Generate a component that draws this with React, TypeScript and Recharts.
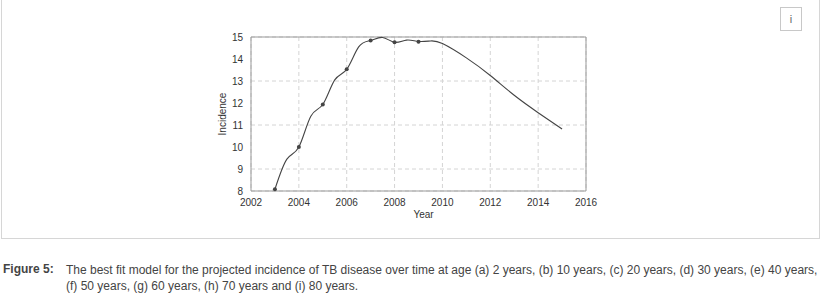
import {
  ComposedChart,
  Line,
  XAxis,
  YAxis,
  CartesianGrid,
  ReferenceArea,
} from "recharts";

// fitted curve
const curveYears = [2003, 2003.5, 2004, 2004.5, 2005, 2005.5, 2006, 2006.5, 2007, 2007.5, 2008, 2008.5, 2009, 2009.5, 2010, 2011, 2012, 2013, 2014, 2015];
const curveValues = [8.08, 9.45, 10.0, 11.4, 11.93, 13.05, 13.53, 14.55, 14.84, 14.98, 14.76, 14.86, 14.8, 14.82, 14.7, 14.05, 13.25, 12.35, 11.56, 10.82];

// observed points
const obsYears = [2003, 2004, 2005, 2006, 2007, 2008, 2009];
const obsValues = [8.08, 10.0, 11.93, 13.53, 14.84, 14.76, 14.78];

const xTicks = [2002, 2004, 2006, 2008, 2010, 2012, 2014, 2016];
const yTicks = [8, 9, 10, 11, 12, 13, 14, 15];

const captionLabel = "Figure 5:";
const captionText =
  "The best fit model for the projected incidence of TB disease over time at age (a) 2 years, (b) 10 years, (c) 20 years, (d) 30 years, (e) 40 years, (f) 50 years, (g) 60 years, (h) 70 years and (i) 80 years.";

const FONT = "'Liberation Sans', Arial, sans-serif";
const INK = "#444";

export default function App() {
  const curve = curveYears.map((year, i) => ({ year, value: curveValues[i] }));
  const obs = obsYears.map((year, i) => ({ year, value: obsValues[i] }));
  const tick = { fill: "#333", fontSize: 10, fontFamily: FONT };

  return (
    <div style={{ position: "absolute", left: 0, top: 0, width: 822, height: 295, background: "#fff", fontFamily: FONT }}>
      <div
        style={{
          position: "absolute",
          left: 1,
          top: -1,
          width: 817,
          height: 239,
          borderLeft: "1px solid #d6d6d6",
          borderRight: "1px solid #d6d6d6",
          borderBottom: "1px solid #d6d6d6",
        }}
      />
      <div
        style={{
          position: "absolute",
          left: 780,
          top: 7,
          width: 22,
          height: 24,
          border: "1px solid #c8c8c8",
          boxSizing: "border-box",
          color: "#666",
          fontSize: 11,
          textAlign: "center",
          lineHeight: "22px",
        }}
      >
        i
      </div>
      <div style={{ position: "absolute", left: 0, top: 0 }}>
        <ComposedChart width={822} height={240} margin={{ top: 37, right: 236, bottom: 29, left: 221 }}>
          <CartesianGrid stroke="#d4d4d4" strokeDasharray="4 3" />
          <XAxis
            type="number"
            dataKey="year"
            domain={[2002, 2016]}
            ticks={xTicks}
            height={20}
            axisLine={false}
            tickLine={false}
            tick={tick}
            tickMargin={2}
            label={({ viewBox }: any) => (
              <text
                x={viewBox.x + viewBox.width / 2 + 5}
                y={viewBox.y + 27}
                textAnchor="middle"
                fill="#333"
                fontSize={10}
                fontFamily={FONT}
              >
                Year
              </text>
            )}
          />
          <YAxis
            type="number"
            dataKey="value"
            domain={[8, 15]}
            ticks={yTicks}
            width={30}
            axisLine={false}
            tickLine={false}
            tick={tick}
            tickMargin={2}
            label={({ viewBox }: any) => {
              const x = viewBox.x + 5;
              const y = viewBox.y + viewBox.height / 2;
              return (
                <text
                  x={x}
                  y={y}
                  transform={`rotate(-90 ${x} ${y})`}
                  textAnchor="middle"
                  fill="#333"
                  fontSize={10}
                  fontFamily={FONT}
                >
                  Incidence
                </text>
              );
            }}
          />
          <ReferenceArea x1={2002} x2={2016} y1={8} y2={15} fill="none" stroke="#999" strokeWidth={1} />
          <Line
            data={curve}
            dataKey="value"
            type="natural"
            stroke={INK}
            strokeWidth={1.1}
            dot={false}
            isAnimationActive={false}
          />
          <Line
            data={obs}
            dataKey="value"
            stroke="none"
            dot={{ r: 2, fill: INK, stroke: "none" }}
            isAnimationActive={false}
          />
        </ComposedChart>
      </div>
      <div style={{ position: "absolute", left: 3, top: 262, fontSize: 12, fontWeight: "bold", color: "#444" }}>
        {captionLabel}
      </div>
      <div
        style={{
          position: "absolute",
          left: 66,
          top: 262,
          width: 756,
          fontSize: 12,
          lineHeight: "16px",
          color: "#444",
        }}
      >
        {captionText}
      </div>
    </div>
  );
}
